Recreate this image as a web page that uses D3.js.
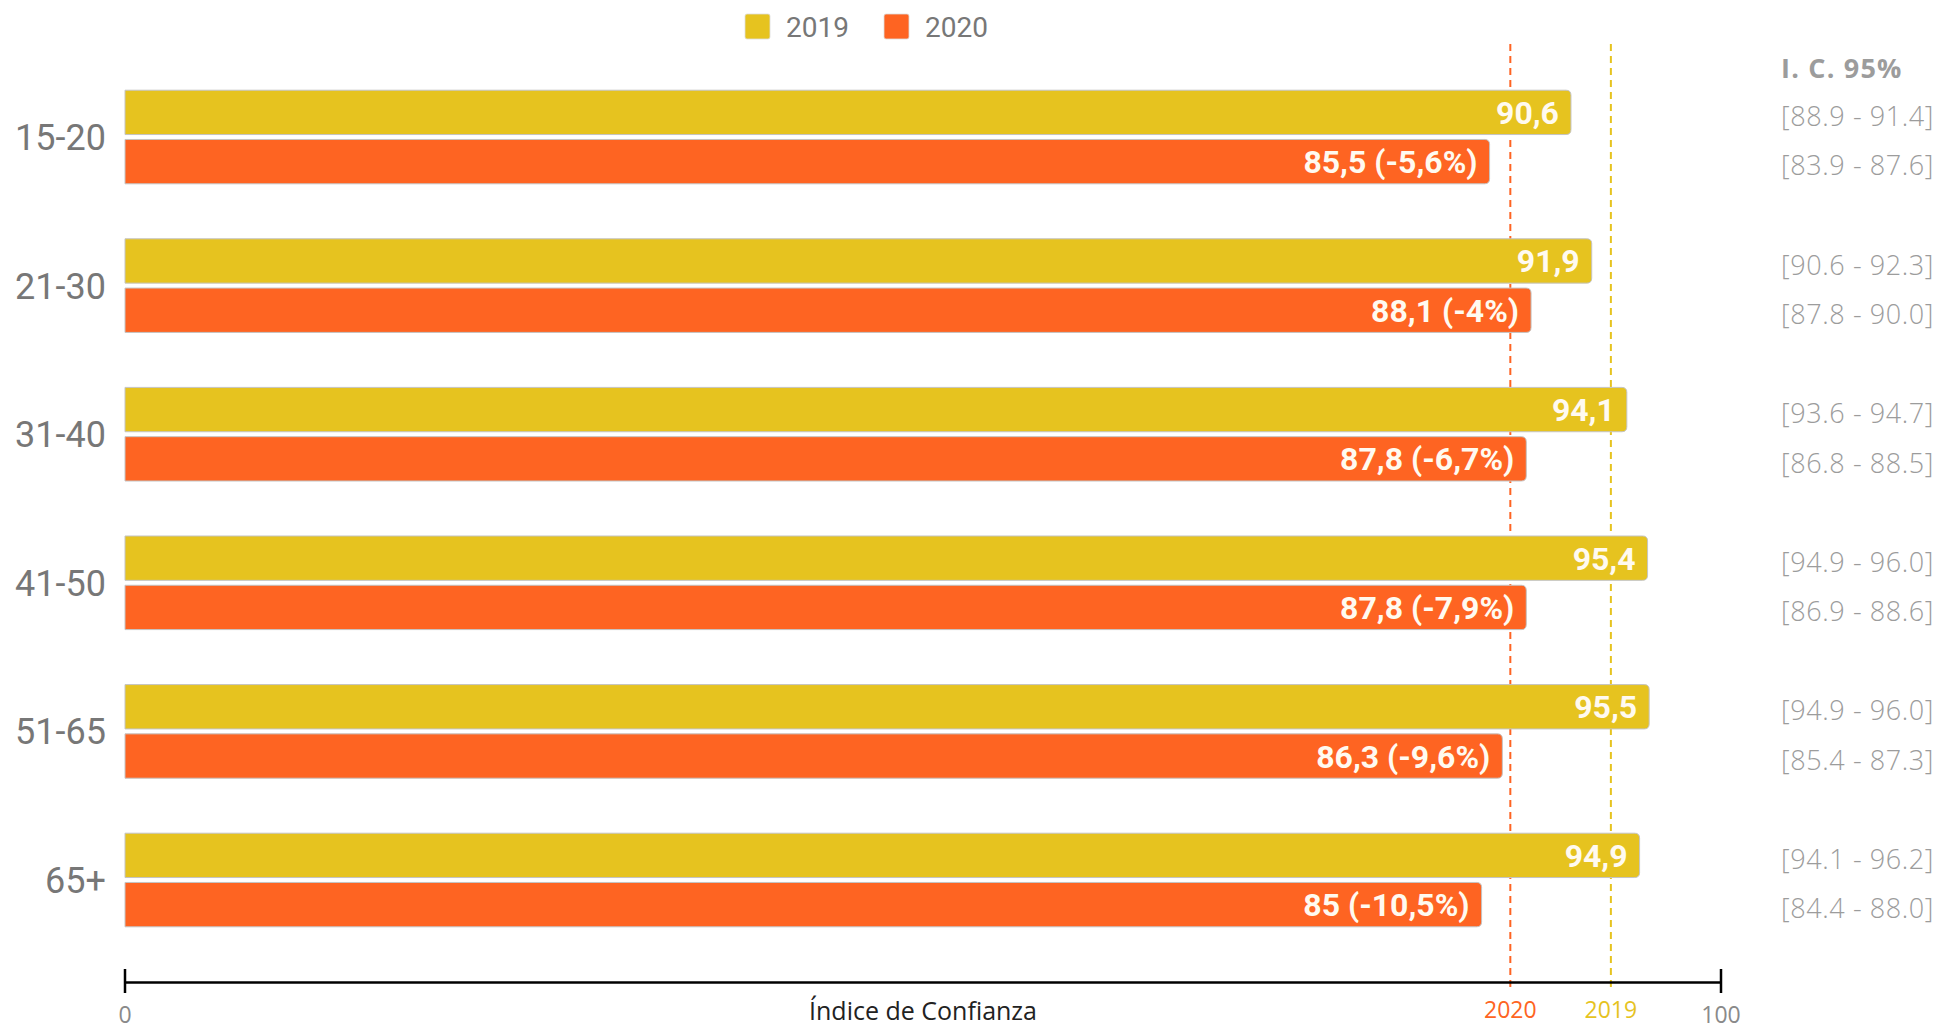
<!DOCTYPE html>
<html>
<head>
<meta charset="utf-8">
<script src="https://cdn.jsdelivr.net/npm/d3@7"></script>
<style>
  html, body { margin: 0; padding: 0; background: #ffffff; }
  svg { display: block; }
</style>
</head>
<body>
<script>
// ---------- DATA ----------
const categories = ["15-20", "21-30", "31-40", "41-50", "51-65", "65+"];
const seriesNames = ["2019", "2020"];
const values2019 = [90.6, 91.9, 94.1, 95.4, 95.5, 94.9];
const values2020 = [85.5, 88.1, 87.8, 87.8, 86.3, 85.0];
const labels2019 = ["90,6", "91,9", "94,1", "95,4", "95,5", "94,9"];
const labels2020 = ["85,5 (-5,6%)", "88,1 (-4%)", "87,8 (-6,7%)", "87,8 (-7,9%)", "86,3 (-9,6%)", "85 (-10,5%)"];
const ci2019 = ["[88.9 - 91.4]", "[90.6 - 92.3]", "[93.6 - 94.7]", "[94.9 - 96.0]", "[94.9 - 96.0]", "[94.1 - 96.2]"];
const ci2020 = ["[83.9 - 87.6]", "[87.8 - 90.0]", "[86.8 - 88.5]", "[86.9 - 88.6]", "[85.4 - 87.3]", "[84.4 - 88.0]"];
const refNames = ["2020", "2019"];
const refValues = [86.8, 93.1];
const axisTicks = [0, 100];
const axisTitle = "Índice de Confianza";
const ciTitle = "I. C. 95%";

// ---------- STYLE ----------
const W = 1953, H = 1032;
const colors = { "2019": "#E6C31F", "2020": "#FE6422" };
const grey = "#777777";
const ciGrey = "#9c9c9c";

const svg = d3.select("body").append("svg").attr("width", W).attr("height", H);

const x = d3.scaleLinear().domain([0, 100]).range([125, 1721]);
const y0 = d3.scaleBand().domain(categories).range([62.7, 954.3]).paddingInner(0.37).paddingOuter(0.185);
const y1 = d3.scaleBand().domain(seriesNames).range([0, y0.bandwidth()]).paddingInner(0.1);

const rows = categories.map((c, i) => ({
  cat: c,
  bars: [
    { s: "2019", v: values2019[i], label: labels2019[i], ci: ci2019[i] },
    { s: "2020", v: values2020[i], label: labels2020[i], ci: ci2020[i] }
  ]
}));

function barPath(x0, x1, yTop, h, r) {
  return `M${x0},${yTop}H${x1 - r}Q${x1},${yTop} ${x1},${yTop + r}V${yTop + h - r}Q${x1},${yTop + h} ${x1 - r},${yTop + h}H${x0}Z`;
}

// ---------- REFERENCE LINES (behind bars) ----------
const refs = refNames.map((n, i) => ({ name: n, v: refValues[i] }));
svg.selectAll("line.ref").data(refs).join("line")
  .attr("class", "ref")
  .attr("x1", d => x(d.v)).attr("x2", d => x(d.v))
  .attr("y1", 44).attr("y2", 992)
  .attr("stroke", d => colors[d.name])
  .attr("stroke-width", 2)
  .attr("stroke-dasharray", "7,5");

// ---------- BARS ----------
const g = svg.append("g");
const groups = g.selectAll("g.row").data(rows).join("g")
  .attr("class", "row")
  .attr("transform", d => `translate(0,${y0(d.cat)})`);

groups.selectAll("path.bar").data(d => d.bars).join("path")
  .attr("class", "bar")
  .attr("d", d => barPath(x(0), x(d.v), y1(d.s), y1.bandwidth(), 5))
  .attr("fill", d => colors[d.s])
  .attr("stroke", "#c4c4c4")
  .attr("stroke-width", 1);

// ---------- VALUE LABELS ----------
groups.selectAll("text.val").data(d => d.bars).join("text")
  .attr("class", "val")
  .attr("x", d => x(d.v) - 12)
  .attr("y", d => y1(d.s) + y1.bandwidth() / 2)
  .attr("dy", "0.36em")
  .attr("text-anchor", "end")
  .attr("font-family", "Roboto, sans-serif")
  .attr("font-weight", 700)
  .attr("font-size", 32)
  .attr("fill", "#fffaf0")
  .text(d => d.label);

// ---------- CATEGORY LABELS ----------
svg.selectAll("text.cat").data(categories).join("text")
  .attr("class", "cat")
  .attr("x", 106)
  .attr("y", d => y0(d) + y0.bandwidth() / 2)
  .attr("dy", "0.36em")
  .attr("text-anchor", "end")
  .attr("font-family", "Roboto, sans-serif")
  .attr("font-size", 36)
  .attr("fill", grey)
  .text(d => d);

// ---------- CI COLUMN ----------
svg.append("text")
  .attr("x", 1781).attr("y", 68).attr("dy", "0.36em")
  .attr("font-family", "'Open Sans', sans-serif")
  .attr("font-weight", 700)
  .attr("font-size", 27)
  .attr("letter-spacing", 1.2)
  .attr("fill", ciGrey)
  .text(ciTitle);

groups.selectAll("text.ci").data(d => d.bars).join("text")
  .attr("class", "ci")
  .attr("x", 1781)
  .attr("y", d => y1(d.s) + y1.bandwidth() / 2 + 4)
  .attr("dy", "0.36em")
  .attr("font-family", "'Open Sans', sans-serif")
  .attr("font-weight", 300)
  .attr("font-size", 27)
  .attr("letter-spacing", 0.6)
  .attr("fill", ciGrey)
  .text(d => d.ci);

// ---------- AXIS ----------
const axisG = svg.append("g").attr("transform", "translate(0,982)");
axisG.call(d3.axisBottom(x).tickValues(axisTicks).tickSize(0).tickFormat(""));
axisG.select(".domain").attr("stroke", "#000").attr("stroke-width", 2.5);
axisG.selectAll(".tick line").remove();
axisG.selectAll("line.endtick").data(axisTicks).join("line")
  .attr("class", "endtick")
  .attr("x1", d => x(d)).attr("x2", d => x(d))
  .attr("y1", -13).attr("y2", 11)
  .attr("stroke", "#000").attr("stroke-width", 2.5);
axisG.selectAll("text.ticklab").data(axisTicks).join("text")
  .attr("class", "ticklab")
  .attr("x", d => x(d)).attr("y", 33)
  .attr("dy", "0.36em")
  .attr("text-anchor", "middle")
  .attr("font-family", "'Open Sans', sans-serif")
  .attr("font-size", 23)
  .attr("fill", "#8a8a8a")
  .text(d => d);

axisG.append("text")
  .attr("x", (x(0) + x(100)) / 2).attr("y", 29)
  .attr("dy", "0.36em")
  .attr("text-anchor", "middle")
  .attr("font-family", "'Open Sans', sans-serif")
  .attr("font-size", 25)
  .attr("fill", "#222")
  .text(axisTitle);

axisG.selectAll("text.reflab").data(refs).join("text")
  .attr("class", "reflab")
  .attr("x", d => x(d.v)).attr("y", 28)
  .attr("dy", "0.36em")
  .attr("text-anchor", "middle")
  .attr("font-family", "'Open Sans', sans-serif")
  .attr("font-size", 23)
  .attr("fill", d => colors[d.name])
  .text(d => d.name);

// ---------- LEGEND ----------
const legend = svg.append("g").attr("transform", "translate(745,14)");
const legItems = legend.selectAll("g").data(seriesNames).join("g")
  .attr("transform", (d, i) => `translate(${i * 139},0)`);
legItems.append("rect")
  .attr("width", 25).attr("height", 25).attr("rx", 2)
  .attr("fill", d => colors[d])
  .attr("stroke", "#ddd").attr("stroke-width", 0.8);
legItems.append("text")
  .attr("x", 41).attr("y", 12.5).attr("dy", "0.36em")
  .attr("font-family", "Roboto, sans-serif")
  .attr("font-size", 28)
  .attr("fill", grey)
  .text(d => d);
</script>
</body>
</html>
